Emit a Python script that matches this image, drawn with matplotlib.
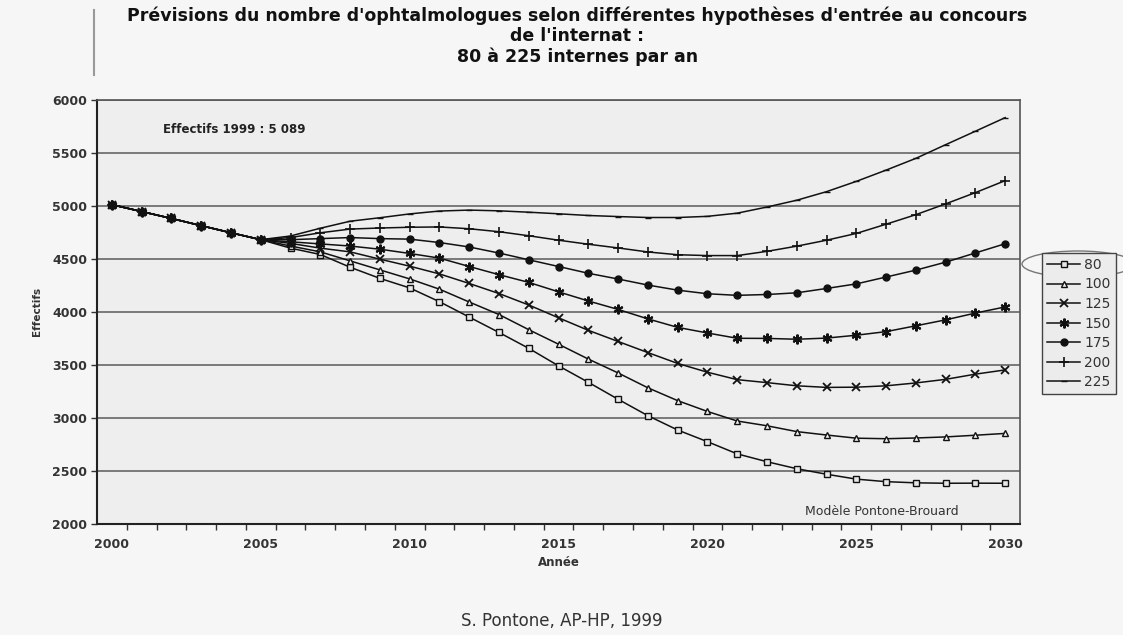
import matplotlib.pyplot as plt
from matplotlib.lines import Line2D
from matplotlib.patches import Ellipse

annees = list(range(2000, 2031))

# 2000-2005 : trajectoire commune a toutes les hypotheses
debut = [5010, 4945, 4880, 4812, 4745, 4680]

s80 = debut + [4600, 4540, 4420, 4315, 4225, 4095, 3950, 3805, 3655, 3490, 3335, 3175,
               3020, 2885, 2775, 2660, 2586, 2520, 2468, 2422, 2398, 2387, 2383, 2384, 2383]
s100 = debut + [4620, 4565, 4480, 4395, 4310, 4213, 4092, 3974, 3831, 3694, 3554, 3423,
                3283, 3162, 3060, 2970, 2925, 2870, 2838, 2808, 2803, 2810, 2820, 2836, 2853]
s125 = debut + [4645, 4600, 4565, 4496, 4430, 4357, 4267, 4172, 4064, 3943, 3825, 3720,
                3615, 3513, 3430, 3360, 3332, 3302, 3287, 3289, 3302, 3329, 3363, 3412, 3452]
s150 = debut + [4660, 4640, 4620, 4590, 4550, 4506, 4427, 4350, 4277, 4188, 4102, 4022,
                3933, 3853, 3800, 3750, 3749, 3741, 3752, 3779, 3813, 3868, 3924, 3988, 4046]
s175 = debut + [4680, 4690, 4700, 4690, 4685, 4653, 4611, 4554, 4490, 4427, 4363, 4309,
                4252, 4204, 4170, 4155, 4163, 4179, 4220, 4263, 4328, 4393, 4468, 4555, 4642]
s200 = debut + [4700, 4745, 4780, 4790, 4797, 4800, 4783, 4755, 4717, 4675, 4637, 4602,
                4564, 4538, 4530, 4530, 4570, 4619, 4675, 4739, 4826, 4916, 5018, 5124, 5237]
s225 = debut + [4715, 4788, 4854, 4887, 4923, 4950, 4959, 4952, 4939, 4924, 4908, 4898,
                4889, 4889, 4900, 4930, 4988, 5052, 5133, 5230, 5336, 5447, 5576, 5703, 5831]

series = [("80", s80), ("100", s100), ("125", s125), ("150", s150),
          ("175", s175), ("200", s200), ("225", s225)]

styles = {
    "80": dict(marker="s", ms=4.5, mfc="#e8e8e8", mec="#111", mew=1.0),
    "100": dict(marker="^", ms=5, mfc="#f2f2f2", mec="#111", mew=1.0),
    "125": dict(marker="x", ms=5.5, mec="#111", mew=1.3),
    "150": dict(marker=(6, 2, 0), ms=7, mec="#111", mew=1.5),
    "175": dict(marker="o", ms=5, mfc="#111", mec="#111"),
    "200": dict(marker="+", ms=7, mec="#111", mew=1.2),
    "225": dict(marker="_", ms=4, mec="#111", mew=1.0),
}

fig = plt.figure(figsize=(11.23, 6.35), dpi=100, facecolor="#f6f6f6")
ax = fig.add_axes([0.0864, 0.175, 0.822, 0.668])
ax.set_facecolor("#eeeeee")

handles = {}
for nom, vals in series:
    h, = ax.plot(annees, vals, color="#111", lw=1.1, label=nom, **styles[nom])
    handles[nom] = h

ax.set_xlim(1999.5, 2030.5)
ax.set_ylim(2000, 6000)
ax.set_yticks(range(2000, 6001, 500))
ax.set_xticks(range(2000, 2031, 5))
ax.set_xticks([a + 0.5 for a in range(2000, 2030)], minor=True)
ax.tick_params(axis="x", which="major", length=0, pad=10)
ax.tick_params(axis="x", which="minor", length=4, width=1, color="#333", direction="out")
ax.tick_params(axis="y", length=4, width=1, color="#333", direction="out", pad=3)
for lab in ax.get_xticklabels() + ax.get_yticklabels():
    lab.set_fontfamily("DejaVu Sans")
    lab.set_fontweight("bold")
    lab.set_fontsize(9)
    lab.set_color("#333")

ax.grid(axis="y", color="#5a5a5a", lw=1.1)
ax.set_axisbelow(True)
for cote in ["left", "bottom"]:
    ax.spines[cote].set_color("#222")
    ax.spines[cote].set_linewidth(1.5)
for cote in ["top", "right"]:
    ax.spines[cote].set_color("#555")
    ax.spines[cote].set_linewidth(1.2)

ax.set_xlabel("Année", fontsize=8.5, fontweight="bold", color="#333")
ax.xaxis.set_label_coords(0.5, -0.075)
ax.set_ylabel("Effectifs", fontsize=7.5, fontweight="bold", color="#333")
ax.yaxis.set_label_coords(-0.06, 0.5)

ax.text(0.072, 0.93, "Effectifs 1999 : 5 089", transform=ax.transAxes,
        fontsize=8.5, fontweight="bold", color="#222", va="center")
ax.text(0.85, 0.03, "Modèle Pontone-Brouard", transform=ax.transAxes,
        fontsize=9, color="#333", ha="center", va="center")

fig.text(0.514, 0.99,
         "Prévisions du nombre d'ophtalmologues selon différentes hypothèses d'entrée au concours\n"
         "de l'internat :\n80 à 225 internes par an",
         ha="center", va="top", fontsize=12.5, fontweight="bold", color="#111", linespacing=1.15)
fig.text(0.5, 0.022, "S. Pontone, AP-HP, 1999", ha="center", va="center",
         fontsize=12, color="#333")

ordre = ["80", "100", "125", "150", "175", "200", "225"]
leg = fig.legend([handles[n] for n in ordre], ordre, loc="upper left",
                 bbox_to_anchor=(1042 / 1123, 1 - 253 / 635), borderaxespad=0,
                 fontsize=10, handlelength=2.4, handletextpad=0.3, borderpad=0.35,
                 labelspacing=0.4, fancybox=False, framealpha=1)
leg.get_frame().set_edgecolor("#444")
leg.get_frame().set_facecolor("#ececec")
for t in leg.get_texts():
    t.set_color("#333")

# trait de crayon autour de "80" et bord de page scanne
fig.patches.append(Ellipse((1078 / 1123, 1 - 264 / 635), 112 / 1123, 26 / 635,
                           transform=fig.transFigure, fill=False, ec="#777", lw=1))
fig.lines.append(Line2D([94 / 1123, 94 / 1123], [1 - 10 / 635, 1 - 75 / 635],
                        transform=fig.transFigure, color="#999", lw=1.5))

fig.savefig("out.png", dpi=100, facecolor=fig.get_facecolor())
